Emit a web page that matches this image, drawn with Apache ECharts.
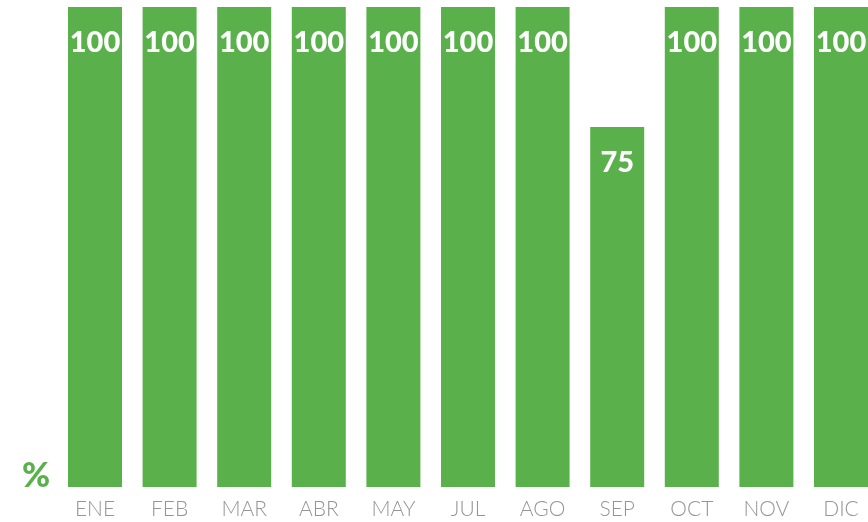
<!DOCTYPE html>
<html>
<head>
<meta charset="utf-8">
<script src="https://cdn.jsdelivr.net/npm/echarts@6/dist/echarts.min.js"></script>
<style>
  html, body { margin: 0; padding: 0; background: #fff; }
  #chart { width: 868px; height: 522px; }
</style>
</head>
<body>
<div id="chart"></div>
<script>
const months = ['ENE', 'FEB', 'MAR', 'ABR', 'MAY', 'JUL', 'AGO', 'SEP', 'OCT', 'NOV', 'DIC'];
const percent = [100, 100, 100, 100, 100, 100, 100, 75, 100, 100, 100];

const chart = echarts.init(document.getElementById('chart'));

const option = {
  backgroundColor: '#ffffff',
  animation: false,
  grid: {
    left: 57.7,
    width: 820.6,
    top: 7,
    bottom: 35,
    containLabel: false,
    outerBoundsMode: 'none'
  },
  xAxis: {
    type: 'category',
    data: months,
    axisLine: { show: false },
    axisTick: { show: false },
    axisLabel: {
      color: '#959595',
      fontFamily: 'Lato',
      fontWeight: 300,
      fontSize: 21,
      margin: 12
    }
  },
  yAxis: {
    type: 'value',
    min: 0,
    max: 100,
    show: false
  },
  graphic: [
    {
      type: 'text',
      left: 22,
      top: 459,
      style: {
        text: '%',
        fill: '#5ab14c',
        font: '900 34px Lato'
      }
    }
  ],
  series: [
    {
      type: 'bar',
      data: percent,
      barWidth: 54,
      itemStyle: { color: '#5ab14c' },
      label: {
        show: true,
        position: 'insideTop',
        distance: 21,
        color: '#ffffff',
        fontFamily: 'Lato',
        fontWeight: 900,
        fontSize: 29
      }
    }
  ]
};

chart.setOption(option);
</script>
</body>
</html>
